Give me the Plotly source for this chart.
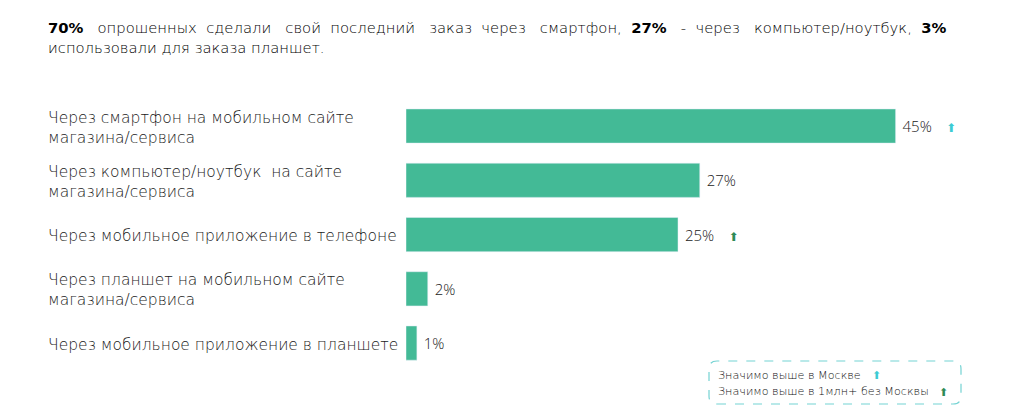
import plotly.graph_objects as go

categories = [
    "Через смартфон на мобильном сайте<br>магазина/сервиса",
    "Через компьютер/ноутбук  на сайте<br>магазина/сервиса",
    "Через мобильное приложение в телефоне",
    "Через планшет на мобильном сайте<br>магазина/сервиса",
    "Через мобильное приложение в планшете",
]
values = [45, 27, 25, 2, 1]
moscow_flag = [True, False, False, False, False]
million_flag = [False, False, True, False, False]

headline_words = ["<b>70%</b>", "опрошенных", "сделали", "свой", "последний", "заказ",
                  "через", "смартфон,", "<b>27%</b>", "-", "через", "компьютер/ноутбук,",
                  "<b>3%</b>"]
headline_2 = "использовали для заказа планшет."
legend_lines = ["Значимо выше в Москве", "Значимо выше в 1млн+ без Москвы"]

# page body has an 8px margin, so the figure is a bit smaller than the window
OFF = 8
W, H = 1025 - 2 * OFF, 413 - 2 * OFF
X = lambda p: (p - OFF) / W
Y = lambda p: 1 - (p - OFF) / H

bar_color = "#43BA96"
cyan = "#3CCBD3"
dark_green = "#2E8B57"
font = "DejaVu Sans"
ids = list(range(len(categories)))

fig = go.Figure()
fig.add_trace(go.Bar(
    x=values, y=ids, orientation="h", marker_color=bar_color, width=0.63,
    text=[f"\u00a0{v}%" for v in values], textposition="outside",
    textfont=dict(family="Open Sans", size=15, weight=300, color="#222"), cliponaxis=False,
    hoverinfo="skip",
))

# significance arrows next to value labels
for flags, col in [(moscow_flag, cyan), (million_flag, dark_green)]:
    xs = [v + 5.1 for v, f in zip(values, flags) if f]
    ys = [i + 0.06 for i, f in zip(ids, flags) if f]
    fig.add_trace(go.Scatter(
        x=xs, y=ys, mode="text", text=["⬆"] * len(xs), cliponaxis=False,
        hoverinfo="skip", textfont=dict(family="DejaVu Sans", size=12, color=col),
    ))

# category labels
for i, c in zip(ids, categories):
    fig.add_annotation(x=X(46), xref="paper", y=i, yref="y", text=c, yshift=-1.5,
                       showarrow=False, xanchor="left", yanchor="middle", align="left",
                       font=dict(family=font, size=15.5, weight=300, color="#1a1a1a"))

# first headline line is justified in the original: widen the gaps a little
gaps = ["\u00a0\u00a0" if k % 2 else "\u00a0\u00a0\u00a0" for k in range(len(headline_words) - 1)]
headline_1 = headline_words[0] + "".join(g + w for g, w in zip(gaps, headline_words[1:]))
for txt, yy in [(headline_1, 27.5), (headline_2, 47.5)]:
    fig.add_annotation(x=X(46), y=Y(yy), xref="paper", yref="paper",
                       text=txt, showarrow=False, xanchor="left", yanchor="middle",
                       font=dict(family=font, size=14.8, weight=300, color="#000"))

# legend box
x0, x1, y0, y1 = X(709), X(961), Y(404), Y(361)
rx, ry = 8 / W, 8 / H
fig.add_shape(type="path", xref="paper", yref="paper",
              path=(f"M {x0+rx},{y0} L {x1-rx},{y0} Q {x1},{y0} {x1},{y0+ry} "
                    f"L {x1},{y1-ry} Q {x1},{y1} {x1-rx},{y1} L {x0+rx},{y1} "
                    f"Q {x0},{y1} {x0},{y1-ry} L {x0},{y0+ry} Q {x0},{y0} {x0+rx},{y0} Z"),
              line=dict(color="#74D3D3", width=1.2, dash="dash"))
for k, txt in enumerate(legend_lines):
    fig.add_annotation(x=X(716), y=Y(375 + 16.5 * k), xref="paper", yref="paper",
                       text=txt, showarrow=False, xanchor="left", yanchor="middle",
                       font=dict(family=font, size=11.2, weight=300, color="#111"))
for (px, py), col in zip([(876, 375), (943, 392)], [cyan, dark_green]):
    fig.add_annotation(x=X(px), y=Y(py), xref="paper", yref="paper", text="⬆",
                       showarrow=False, xanchor="center", yanchor="middle",
                       font=dict(family="DejaVu Sans", size=11, color=col))

fig.update_layout(
    width=W, height=H, margin=dict(l=0, r=0, t=0, b=0),
    plot_bgcolor="rgba(0,0,0,0)", paper_bgcolor="white", showlegend=False,
    xaxis=dict(domain=[X(406), 1], range=[0, (1 - X(406)) * W / 10.88], visible=False),
    yaxis=dict(domain=[Y(370.2), Y(98.9)], range=[4.5, -0.5], visible=False),
)
fig.write_html("out.html")
